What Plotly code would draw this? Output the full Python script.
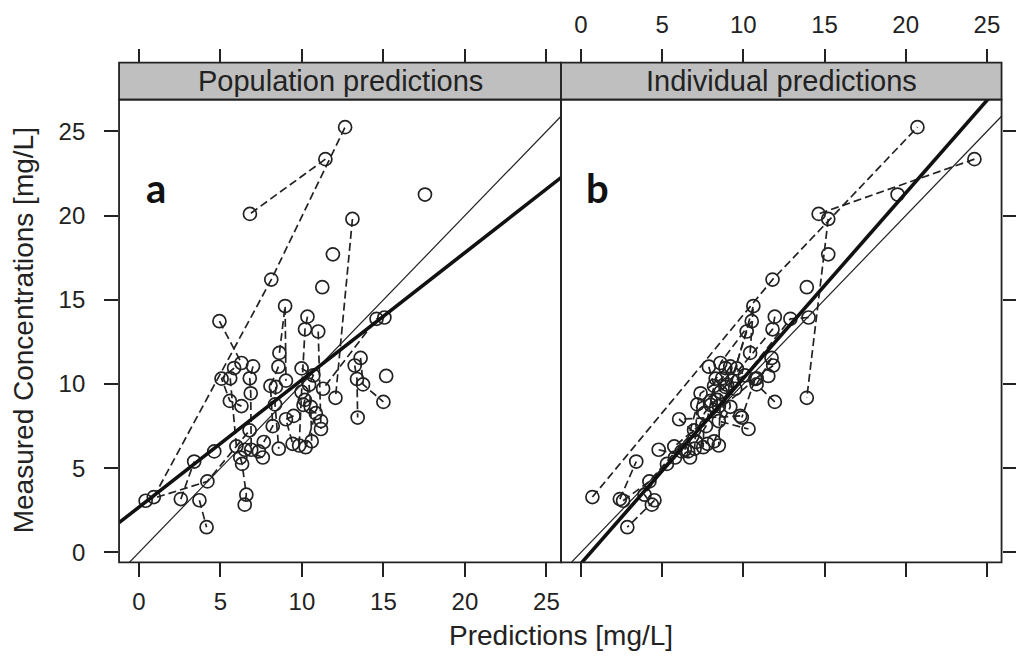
import plotly.graph_objects as go

# ---------------- data ----------------
subject = [1, 1, 1, 2, 2, 3, 3, 4, 5, 6, 6, 7, 7, 7, 8, 8, 9, 9, 9,
           10, 10, 10, 10, 11, 11, 11, 12, 13, 13, 13, 14, 14, 14, 15, 15, 15, 16,
           17, 17, 17, 17, 18, 18, 18, 18, 19, 19, 19, 19, 20, 20, 20, 20, 20,
           21, 21, 22, 22, 22, 23, 23, 23, 23, 24, 24, 24, 25, 25, 25, 25,
           26, 26, 27, 28, 28, 29]
measured = [3.29, 16.2, 25.25, 23.35, 20.1, 19.8, 9.18, 17.7, 21.25, 13.73, 11.25,
            3.07, 4.22, 7.25, 3.17, 5.4, 11.85, 14.63, 10.2,
            14.0, 13.25, 9.53, 6.35, 13.12, 7.8, 7.33, 15.75, 13.95, 13.87, 9.72,
            11.1, 10.3, 8.01, 11.55, 9.98, 8.94, 10.48,
            11.05, 10.34, 9.45, 6.1, 10.95, 10.32, 9.0, 8.69, 11.03, 9.89, 7.5, 6.56,
            10.93, 10.51, 9.96, 8.65, 6.6, 10.34, 6.3, 9.83, 8.79, 6.16,
            9.06, 8.76, 8.27, 6.25, 8.11, 7.91, 6.45, 5.64, 5.26, 3.43, 2.84,
            6.1, 5.64, 6.0, 3.1, 1.5, 6.0]
pop_pred = [0.91, 8.12, 12.65, 11.44, 6.81, 13.1, 12.06, 11.9, 17.55, 4.94, 6.29,
            0.41, 4.2, 6.79, 2.57, 3.39, 8.62, 8.97, 9.02,
            10.34, 10.19, 9.98, 9.83, 11.0, 11.17, 11.17, 11.25, 15.06, 14.58, 11.3,
            13.24, 13.38, 13.42, 13.6, 13.75, 15.0, 15.17,
            7.0, 6.8, 6.86, 6.89, 5.84, 5.07, 5.58, 6.29, 8.56, 8.07, 8.21, 7.66,
            9.98, 10.7, 10.44, 10.54, 10.6, 5.6, 5.98, 8.4, 8.35, 8.58,
            10.18, 10.1, 10.85, 10.23, 9.49, 9.02, 9.43, 6.22, 6.33, 6.59, 6.49,
            6.5, 7.6, 4.62, 3.71, 4.15, 7.36]
ind_pred = [0.71, 11.8, 20.72, 24.23, 14.64, 15.23, 13.91, 15.23, 19.5, 10.52, 8.59,
            2.6, 4.22, 6.97, 2.4, 3.41, 10.42, 10.62, 9.3,
            11.94, 11.8, 8.6, 8.49, 10.21, 8.49, 10.32, 13.91, 14.02, 12.9, 9.5,
            11.84, 10.73, 9.91, 11.74, 10.82, 11.94, 11.54,
            9.2, 8.7, 7.37, 6.4, 8.9, 8.3, 8.0, 8.5, 7.88, 8.2, 7.7, 7.1,
            9.6, 10.1, 9.0, 9.2, 8.2, 10.82, 5.75, 8.9, 7.17, 7.0,
            8.4, 8.0, 7.6, 7.53, 9.81, 6.05, 7.8, 5.8, 5.3, 3.92, 4.37,
            4.79, 6.72, 6.6, 4.53, 2.86, 6.2]

panel_titles = ["Population predictions", "Individual predictions"]
panel_letters = ["a", "b"]
reg_intercept = [2.69, -0.66]
reg_slope = [0.7555, 1.10]
tick_vals = [0, 5, 10, 15, 20, 25]
x_range = [-1.22, 25.9]
y_range = [-0.59, 26.89]

# ---------------- layout geometry ----------------
W, H = 1016, 659
px_l, px_m, px_r = 120, 565.5, 1009.5
py_top, py_bot, py_strip = 100, 565, 63
xd1 = [px_l / W, px_m / W]
xd2 = [px_m / W, px_r / W]
yd = [(H - py_bot) / H, (H - py_top) / H]
strip_top = (H - py_strip) / H

INK = "#222222"
FONT = "Liberation Sans, Arial, sans-serif"


def dashed_path(xs, ids):
    lx, ly = [], []
    prev = None
    for xv, yv, s in zip(xs, measured, ids):
        if prev is not None and s != prev:
            lx.append(None)
            ly.append(None)
        lx.append(xv)
        ly.append(yv)
        prev = s
    return lx, ly


fig = go.Figure()
for k, (xs, xa, ya) in enumerate([(pop_pred, "x", "y"), (ind_pred, "x2", "y2")]):
    lx, ly = dashed_path(xs, subject)
    fig.add_trace(go.Scatter(x=lx, y=ly, mode="lines", xaxis=xa, yaxis=ya,
                             line=dict(color=INK, width=1.7, dash="8px,4px"),
                             hoverinfo="skip", showlegend=False))
    fig.add_trace(go.Scatter(x=xs, y=measured, mode="markers", xaxis=xa, yaxis=ya,
                             marker=dict(symbol="circle-open", size=13, color=INK,
                                         line=dict(width=1.7, color=INK)),
                             showlegend=False))
    # identity line
    fig.add_trace(go.Scatter(x=x_range, y=x_range, mode="lines", xaxis=xa, yaxis=ya,
                             line=dict(color=INK, width=1.2), showlegend=False,
                             hoverinfo="skip"))
    # regression line
    fig.add_trace(go.Scatter(x=x_range,
                             y=[reg_intercept[k] + reg_slope[k] * v for v in x_range],
                             mode="lines", xaxis=xa, yaxis=ya,
                             line=dict(color="#111111", width=3.6), showlegend=False,
                             hoverinfo="skip"))

# dummy traces so top axes render
fig.add_trace(go.Scatter(x=[None], y=[None], xaxis="x3", yaxis="y", showlegend=False))
fig.add_trace(go.Scatter(x=[None], y=[None], xaxis="x4", yaxis="y2", showlegend=False))

tickfont = dict(family=FONT, size=24, color=INK)
common_x = dict(range=x_range, tickvals=tick_vals, ticks="outside", ticklen=14,
                tickwidth=1.5, tickcolor=INK, showgrid=False, zeroline=False,
                showline=False, tickfont=tickfont, fixedrange=True)
common_y = dict(range=y_range, tickvals=tick_vals, ticks="outside", ticklen=14,
                tickwidth=1.5, tickcolor=INK, showgrid=False, zeroline=False,
                showline=False, tickfont=tickfont, fixedrange=True)

fig.update_layout(
    width=W, height=H,
    margin=dict(l=0, r=0, t=0, b=0),
    paper_bgcolor="white", plot_bgcolor="white",
    xaxis=dict(domain=xd1, anchor="y", showticklabels=True, ticklabelstandoff=4, **common_x),
    xaxis2=dict(domain=xd2, anchor="y2", showticklabels=False, **common_x),
    xaxis3=dict(overlaying="x", side="top", anchor="free", position=strip_top,
                showticklabels=False, **common_x),
    xaxis4=dict(overlaying="x2", side="top", anchor="free", position=strip_top,
                showticklabels=True, ticklabelstandoff=6, **common_x),
    yaxis=dict(domain=yd, anchor="x", showticklabels=True, ticklabelstandoff=14, **common_y),
    yaxis2=dict(domain=yd, anchor="x2", side="right", showticklabels=False, **common_y),
)

shapes = []
for xd in (xd1, xd2):
    shapes.append(dict(type="rect", xref="paper", yref="paper", x0=xd[0], x1=xd[1],
                       y0=yd[1], y1=strip_top, fillcolor="#bfbfbf",
                       line=dict(color=INK, width=1.8), layer="below"))
    shapes.append(dict(type="rect", xref="paper", yref="paper", x0=xd[0], x1=xd[1],
                       y0=yd[0], y1=yd[1], line=dict(color=INK, width=1.8)))
fig.update_layout(shapes=shapes)

ann = []
for xd, title, letter in zip((xd1, xd2), panel_titles, panel_letters):
    ann.append(dict(text=title, xref="paper", yref="paper", x=(xd[0] + xd[1]) / 2,
                    y=(yd[1] + strip_top) / 2, showarrow=False, xanchor="center",
                    yanchor="middle", font=dict(family=FONT, size=29, color=INK)))
    ann.append(dict(text="<b>" + letter + "</b>", xref="paper", yref="paper",
                    x=xd[0] + 37 / W, y=(H - 189) / H, showarrow=False,
                    xanchor="center", yanchor="middle",
                    font=dict(family="Lato, Open Sans, sans-serif", size=40, color="#111")))
ann.append(dict(text="Predictions [mg/L]", xref="paper", yref="paper", x=565 / W,
                y=(H - 638) / H, showarrow=False, xanchor="center", yanchor="middle",
                font=dict(family=FONT, size=28, color=INK)))
ann.append(dict(text="Measured Concentrations [mg/L]", xref="paper", yref="paper",
                x=24 / W, y=(H - 332) / H, showarrow=False, textangle=-90,
                xanchor="center", yanchor="middle",
                font=dict(family=FONT, size=28, color=INK)))
fig.update_layout(annotations=ann)

fig.write_html("out.html", config={"displayModeBar": False},
               post_script="document.body.style.margin='0';document.body.style.overflow='hidden';")
